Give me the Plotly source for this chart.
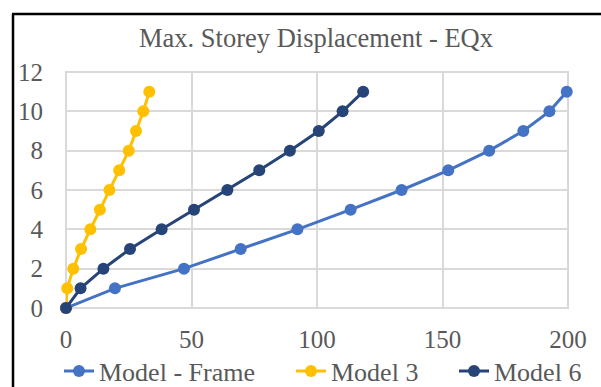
import plotly.graph_objects as go

# Storey levels and maximum displacement per model (EQx load case)
storeys = [0, 1, 2, 3, 4, 5, 6, 7, 8, 9, 10, 11]
disp_frame = [0, 19.5, 47, 69.6, 92.2, 113.4, 133.7, 152.3, 168.6, 182.2, 192.6, 199.5]
disp_model3 = [0, 0.5, 2.9, 6.0, 9.7, 13.5, 17.3, 21.2, 25.0, 27.9, 30.8, 33.2]
disp_model6 = [0, 5.8, 14.9, 25.5, 38.1, 51.0, 64.3, 77.0, 89.2, 100.7, 110.2, 118.4]

series_names = ["Model - Frame", "Model 3", "Model 6"]
series_colors = ["#4472C4", "#FFC000", "#264478"]
x_ticks = [0, 50, 100, 150, 200]
y_ticks = [0, 2, 4, 6, 8, 10, 12]

FONT = "Liberation Serif, Times New Roman, serif"
TEXT = "#595959"
GRID = "#D9D9D9"
PAGE_W, PAGE_H = 601, 387

# plot-area geometry in pixels
L, R, T, B = 66, 568, 72, 308
W, H = R - L, B - T

def px_x(p):
    return (p - L) / W

def px_y(p):
    return (B - p) / H

# one legend per series so each entry can sit at its own horizontal position
legend_ids = ["legend", "legend2", "legend3"]
legend_left_px = [59, 291, 454]
legend_mid_px = 371

fig = go.Figure()
for name, xs, color, lid in zip(series_names, [disp_frame, disp_model3, disp_model6],
                                series_colors, legend_ids):
    fig.add_trace(go.Scatter(
        x=xs, y=storeys, name=name, mode="lines+markers",
        line=dict(color=color, width=3),
        marker=dict(color=color, size=12),
        cliponaxis=False, legend=lid,
    ))

legend_style = dict(orientation="h", xref="container", yref="container",
                    xanchor="left", yanchor="middle",
                    font=dict(family=FONT, color=TEXT, size=26),
                    bgcolor="rgba(0,0,0,0)")
legend_layout = {
    lid: dict(x=lx / PAGE_W, y=(PAGE_H - legend_mid_px) / PAGE_H, **legend_style)
    for lid, lx in zip(legend_ids, legend_left_px)
}

# outer chart border (left and top edges)
fig.add_shape(type="line", xref="paper", yref="paper",
              x0=px_x(13), x1=px_x(13), y0=px_y(14), y1=px_y(400),
              line=dict(color="black", width=2.5))
fig.add_shape(type="line", xref="paper", yref="paper",
              x0=px_x(12), x1=px_x(610), y0=px_y(14), y1=px_y(14),
              line=dict(color="black", width=2.5))

fig.update_layout(
    width=PAGE_W, height=PAGE_H,
    margin=dict(l=L, r=PAGE_W - R, t=T, b=PAGE_H - B, autoexpand=False),
    paper_bgcolor="white", plot_bgcolor="white",
    font=dict(family=FONT, color=TEXT, size=25),
    title=dict(text="Max. Storey Displacement - EQx", x=px_x(316), xref="paper",
               xanchor="center", y=1 - 38 / PAGE_H, yanchor="middle",
               font=dict(family=FONT, color=TEXT, size=26.5)),
    showlegend=True,
    **legend_layout,
)
fig.update_xaxes(range=[0, 200], tickvals=x_ticks, showgrid=True, gridcolor=GRID,
                 gridwidth=2, zeroline=False, showline=False, automargin=False,
                 ticks="", ticklabelstandoff=14, tickfont=dict(size=25))
fig.update_yaxes(range=[0, 12], tickvals=y_ticks, showgrid=True, gridcolor=GRID,
                 gridwidth=2, zeroline=False, showline=False, automargin=False,
                 ticks="", ticklabelstandoff=22, tickfont=dict(size=25))
# right and bottom edges of the plot area drawn as grid-coloured borders
fig.add_shape(type="rect", xref="paper", yref="paper", x0=0, x1=1, y0=0, y1=1,
              line=dict(color=GRID, width=2), layer="below")

fig.write_html("out.html")
